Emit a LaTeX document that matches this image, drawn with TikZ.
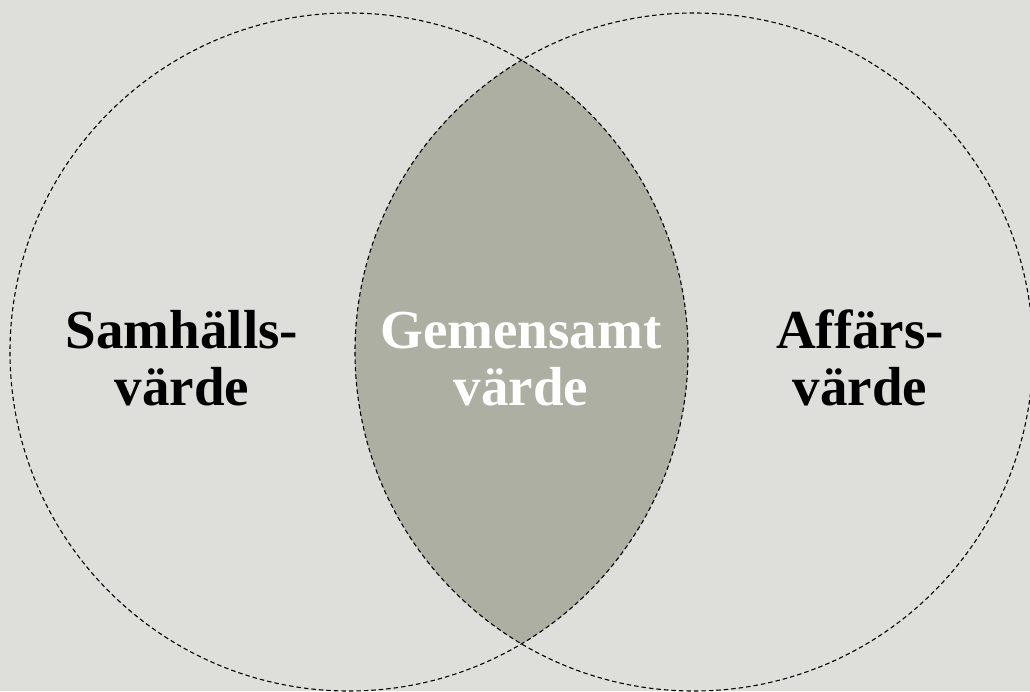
\documentclass[tikz,border=0pt]{standalone}
\usepackage{fontspec}
\setmainfont{Liberation Serif}
\definecolor{paper}{HTML}{DEDFDA}
\definecolor{lens}{HTML}{ADAFA2}
\tikzset{
  ring/.style={draw=black, line width=1.1pt, dash pattern=on 4.5pt off 3pt},
  label/.style={align=center, font=\fontsize{55}{57}\selectfont\bfseries, inner sep=0pt},
}
\begin{document}
\begin{tikzpicture}[x=1pt,y=-1pt]
  % canvas
  \fill[paper] (0,0) rectangle (1030,691);
  \useasboundingbox (0,0) rectangle (1030,691);
  \coordinate (cl) at (349,352);
  \coordinate (cr) at (694,352);
  % overlap of the two circles
  \begin{scope}
    \clip (cl) circle[radius=339pt];
    \fill[lens] (cr) circle[radius=339pt];
  \end{scope}
  % dashed outlines
  \draw[ring] (cl) circle[radius=339pt];
  \draw[ring] (cr) circle[radius=339pt];
  % labels (base anchor sits on the last line)
  \node[label, anchor=base] (samhalle) at (182,405) {Samhälls-\\värde};
  \node[label, anchor=base, text=white] (gemensamt) at (521,405) {Gemensamt\\värde};
  \node[label, anchor=base] (affar) at (860,405) {Affärs-\\värde};
\end{tikzpicture}
\end{document}
